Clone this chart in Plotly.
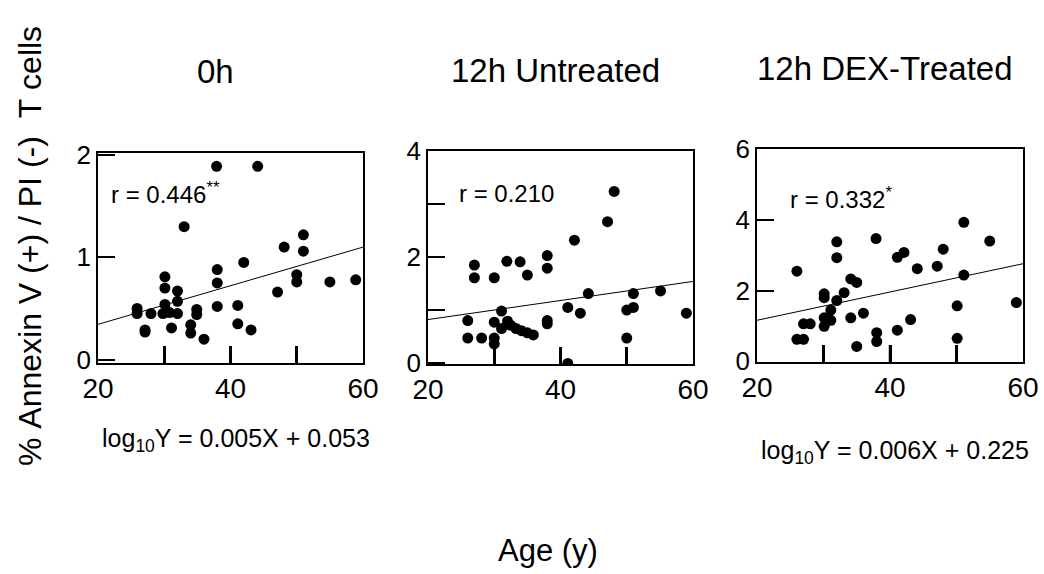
import plotly.graph_objects as go

# ---------------- data ----------------
panel_titles = ["0h", "12h Untreated", "12h DEX-Treated"]
r_labels = ["r = 0.446<sup>**</sup>", "r = 0.210", "r = 0.332<sup>*</sup>"]
equations = ["log<sub>10</sub>Y = 0.005X + 0.053", "", "log<sub>10</sub>Y = 0.006X + 0.225"]

age_0h = [37.9, 44.1, 33.0, 48.1, 51.0, 51.0, 42.0, 38.0, 38.0, 30.1, 30.1, 32.0, 32.0,
          30.1, 50.0, 50.0, 55.0, 58.9, 47.1, 38.0, 41.1, 25.9, 25.9, 28.0, 29.8, 30.8,
          32.0, 34.9, 34.9, 27.1, 27.1, 31.1, 34.0, 34.0, 41.1, 43.1, 36.0]
val_0h = [1.89, 1.89, 1.30, 1.10, 1.22, 1.06, 0.95, 0.88, 0.75, 0.81, 0.70, 0.67, 0.57,
          0.54, 0.83, 0.76, 0.76, 0.78, 0.66, 0.52, 0.53, 0.50, 0.45, 0.45, 0.45, 0.46,
          0.45, 0.49, 0.44, 0.29, 0.27, 0.31, 0.34, 0.26, 0.35, 0.29, 0.20]

age_12u = [48.1, 47.1, 42.1, 38.0, 38.0, 27.0, 27.0, 30.0, 31.9, 33.9, 35.0, 44.2, 51.0,
           55.1, 41.1, 43.0, 50.0, 51.0, 59.0, 31.1, 26.0, 30.0, 32.0, 31.1, 32.5, 33.3,
           34.1, 35.0, 35.9, 38.0, 38.0, 26.0, 28.1, 30.0, 30.0, 50.0, 41.1]
val_12u = [3.24, 2.67, 2.32, 2.03, 1.79, 1.85, 1.61, 1.61, 1.92, 1.91, 1.66, 1.31, 1.31,
           1.36, 1.05, 0.94, 1.00, 1.05, 0.94, 0.98, 0.80, 0.77, 0.79, 0.65, 0.71, 0.65,
           0.61, 0.57, 0.53, 0.80, 0.74, 0.47, 0.47, 0.47, 0.36, 0.47, -0.01]

age_12d = [51.1, 37.9, 32.0, 55.0, 32.0, 41.1, 42.1, 48.0, 26.0, 44.1, 47.1, 51.1, 34.1,
           35.0, 33.1, 30.1, 30.1, 32.0, 50.1, 59.0, 31.1, 36.0, 30.1, 31.1, 34.1, 43.1,
           30.1, 27.0, 28.0, 41.1, 38.0, 38.0, 26.0, 27.0, 50.1, 35.0]
val_12d = [3.93, 3.47, 3.38, 3.40, 2.93, 2.94, 3.08, 3.17, 2.55, 2.62, 2.69, 2.44, 2.33,
           2.23, 1.94, 1.91, 1.80, 1.72, 1.57, 1.66, 1.45, 1.36, 1.23, 1.16, 1.23, 1.18,
           0.99, 1.06, 1.06, 0.88, 0.81, 0.56, 0.62, 0.62, 0.65, 0.42]

fit_x = [20, 60]
fit_0h = [0.345, 1.10]
fit_12u = [0.82, 1.54]
fit_12d = [1.16, 2.76]

x_tickvals = [20, 40, 60]
x_inner_ticks = [30, 40, 50]
x_minor_dtick = 10
y_tickvals = [[0, 1, 2], [0, 2, 4], [0, 2, 4, 6]]
y_minor_dtick = [None, 1, None]
y_ranges = [[-0.033, 2.02], [-0.02, 4.005], [-0.02, 6.005]]

ages = [age_0h, age_12u, age_12d]
vals = [val_0h, val_12u, val_12d]
fits = [fit_0h, fit_12u, fit_12d]

# ---------------- layout geometry (pixels) ----------------
W, H = 1044, 574
x_dom_px = [(98, 363), (428, 693), (757, 1023)]
y_dom_px = [(153, 363), (151, 364), (149, 362)]
XTICK_LEN = 17

FONT = "Liberation Sans, Arial, sans-serif"

fig = go.Figure()
layout = dict(
    width=W, height=H, autosize=False,
    margin=dict(l=0, r=0, t=0, b=0, pad=0),
    paper_bgcolor="white", plot_bgcolor="white",
    showlegend=False,
    font=dict(family=FONT, color="black"),
)

for i in range(3):
    sfx = "" if i == 0 else str(i + 1)
    xa, ya = "x" + sfx, "y" + sfx
    fig.add_trace(go.Scatter(
        x=ages[i], y=vals[i], mode="markers", xaxis=xa, yaxis=ya,
        marker=dict(color="black", size=11), cliponaxis=True,
    ))
    fig.add_trace(go.Scatter(
        x=fit_x, y=fits[i], mode="lines", xaxis=xa, yaxis=ya,
        line=dict(color="black", width=1),
    ))
    x0, x1 = x_dom_px[i]
    yt, yb = y_dom_px[i]
    layout["xaxis" + sfx] = dict(
        domain=[x0 / W, x1 / W], anchor=ya, range=[20, 60], automargin=False,
        tickmode="array", tickvals=x_tickvals,
        ticks="inside", ticklen=XTICK_LEN, tickwidth=2.5, tickcolor="black",
        minor=dict(ticks="inside", ticklen=XTICK_LEN, tickwidth=2.5, tickcolor="black",
                   tick0=20, dtick=x_minor_dtick, showgrid=False),
        showline=True, mirror=True, linecolor="black", linewidth=1.5,
        showgrid=False, zeroline=False,
        tickfont=dict(size=28, family=FONT, color="black"),
    )
    ydict = dict(
        domain=[1 - yb / H, 1 - yt / H], anchor=xa, range=y_ranges[i], automargin=False,
        tickmode="array", tickvals=y_tickvals[i],
        ticks="inside", ticklen=17, tickwidth=2, tickcolor="black",
        showline=True, mirror=True, linecolor="black", linewidth=1.5,
        showgrid=False, zeroline=False,
        tickfont=dict(size=26, family=FONT, color="black"),
    )
    if y_minor_dtick[i]:
        ydict["minor"] = dict(ticks="inside", ticklen=17, tickwidth=2, tickcolor="black",
                              tick0=0, dtick=y_minor_dtick[i], showgrid=False)
    layout["yaxis" + sfx] = ydict

    # inner x tick marks, anchored to the axis at the tick values
    frac = XTICK_LEN / (yb - yt)
    for tv in x_inner_ticks:
        fig.add_shape(type="line", xref=xa, yref=ya + " domain",
                      x0=tv, x1=tv, y0=0, y1=frac, layer="above",
                      line=dict(color="black", width=2.5))

fig.update_layout(**layout)

# titles
title_pos = [(215, 72), (555, 70), (885, 68)]
for t, (px, py) in zip(panel_titles, title_pos):
    fig.add_annotation(text=t, x=px / W, y=1 - py / H, xref="paper", yref="paper",
                       showarrow=False, xanchor="center", yanchor="middle",
                       font=dict(size=33, family=FONT, color="black"))

# r labels
r_pos = [(109, 193), (457, 193), (788, 198)]
for t, (px, py) in zip(r_labels, r_pos):
    fig.add_annotation(text=t, x=px / W, y=1 - py / H, xref="paper", yref="paper",
                       showarrow=False, xanchor="left", yanchor="middle",
                       font=dict(size=24, family=FONT, color="black"))

# regression equations
eq_pos = [(100, 440), None, (759, 452)]
for t, p in zip(equations, eq_pos):
    if t and p:
        fig.add_annotation(text=t, x=p[0] / W, y=1 - p[1] / H, xref="paper", yref="paper",
                           showarrow=False, xanchor="left", yanchor="middle",
                           font=dict(size=25, family=FONT, color="black"))

# common axis labels
fig.add_annotation(text="Age (y)", x=548 / W, y=1 - 550 / H, xref="paper", yref="paper",
                   showarrow=False, xanchor="center", yanchor="middle",
                   font=dict(size=31, family=FONT, color="black"))
fig.add_annotation(text="%\u00a0Annexin\u00a0V\u00a0(+)\u00a0/\u00a0PI\u00a0(-)\u00a0\u00a0T\u00a0cells",
                   x=30 / W, y=1 - 246 / H, xref="paper", yref="paper",
                   showarrow=False, xanchor="center", yanchor="middle", textangle=-90,
                   font=dict(size=32, family=FONT, color="black"))

fig.write_html("out.html", config={"displayModeBar": False},
               post_script="document.body.style.margin='0';document.body.style.padding='0';")
